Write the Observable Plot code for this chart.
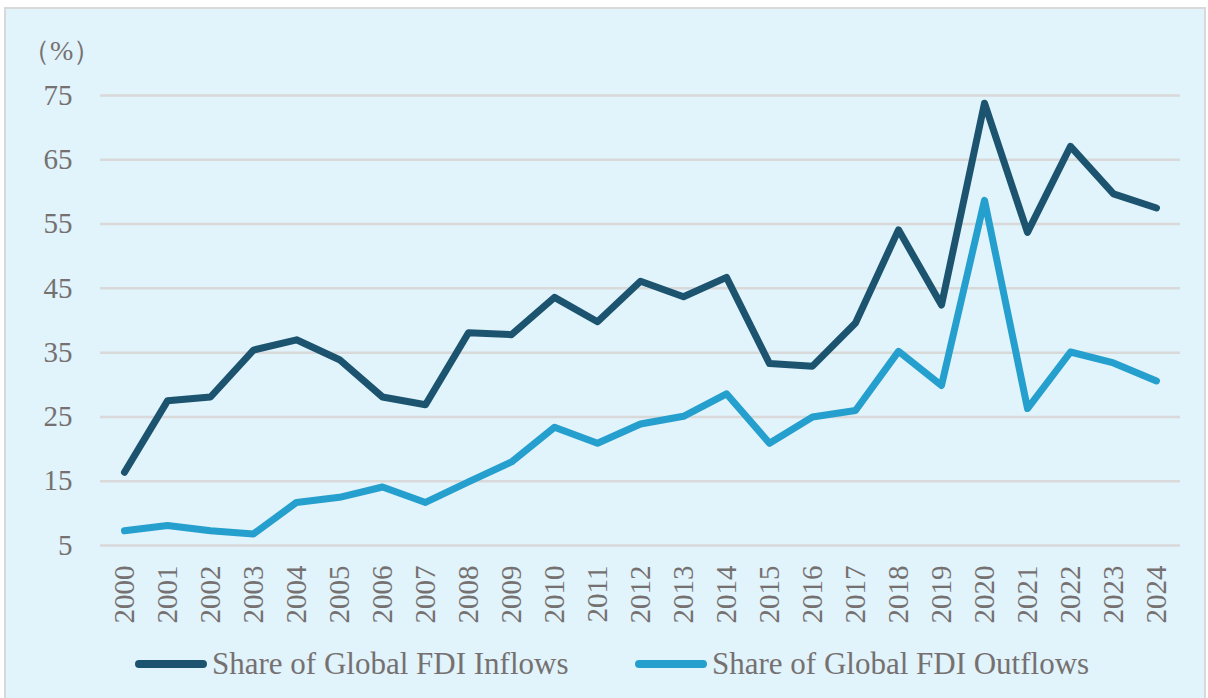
<!DOCTYPE html>
<html>
<head>
<meta charset="utf-8">
<script src="https://cdn.jsdelivr.net/npm/d3@7"></script>
<script src="https://cdn.jsdelivr.net/npm/@observablehq/plot@0.6"></script>
<style>
  html, body { margin: 0; padding: 0; background: #ffffff; width: 1208px; height: 698px; overflow: hidden; }
  #frame { position: absolute; left: 4px; top: 7px; width: 1198px; height: 700px; border: 2px solid #d9d9d9; background: #e1f3fb; }
  #chart { position: absolute; left: 0; top: 0; }
  #unit { position: absolute; left: 16px; top: 23px; font-family: "Liberation Serif", "Times New Roman", serif; font-size: 28px; color: #767171; }
  .leg { position: absolute; top: 637px; display: flex; align-items: center; font-family: "Liberation Serif", "Times New Roman", serif; font-size: 31px; color: #767171; white-space: nowrap; }
  .sw { width: 72px; height: 8px; border-radius: 4px; margin-right: 5px; }
</style>
</head>
<body>
<div id="frame">
  <div id="chart"></div>
  <div id="unit">（%）</div>
  <div class="leg" style="left:129px"><div class="sw" style="background:#1c5470"></div>Share of Global FDI Inflows</div>
  <div class="leg" style="left:629px"><div class="sw" style="background:#259fcd"></div>Share of Global FDI Outflows</div>
</div>
<script>
const years = ["2000","2001","2002","2003","2004","2005","2006","2007","2008","2009","2010","2011","2012","2013","2014","2015","2016","2017","2018","2019","2020","2021","2022","2023","2024"];
const inflows = [16.4, 27.5, 28.1, 35.4, 37.0, 33.9, 28.1, 26.9, 38.1, 37.8, 43.6, 39.8, 46.1, 43.7, 46.7, 33.3, 32.9, 39.6, 54.1, 42.4, 73.8, 53.7, 67.1, 59.7, 57.5];
const outflows = [7.3, 8.1, 7.3, 6.8, 11.7, 12.5, 14.1, 11.7, 14.9, 18.0, 23.4, 20.9, 23.9, 25.1, 28.6, 20.9, 25.0, 26.0, 35.2, 29.9, 58.7, 26.3, 35.1, 33.4, 30.6];
const yTicks = [5, 15, 25, 35, 45, 55, 65, 75];
const seriesNames = ["Share of Global FDI Inflows", "Share of Global FDI Outflows"];

const rows = [];
years.forEach((y, i) => {
  rows.push({year: y, value: inflows[i], series: seriesNames[0]});
  rows.push({year: y, value: outflows[i], series: seriesNames[1]});
});

const chart = Plot.plot({
  width: 1198,
  height: 636,
  marginLeft: 94,
  marginRight: 24,
  marginTop: 86,
  marginBottom: 100,
  style: { background: "transparent", fontFamily: "'Liberation Serif', 'Times New Roman', serif", color: "#767171" },
  x: { type: "point", domain: years, padding: 0.5, label: null },
  y: { domain: [5, 75], label: null },
  color: { domain: seriesNames, range: ["#1c5470", "#259fcd"] },
  marks: [
    Plot.gridY(yTicks, { stroke: "#d9d9d9", strokeOpacity: 1, strokeWidth: 2.5 }),
    Plot.axisY(yTicks, { tickSize: 0, tickPadding: 28, fontSize: 29, label: null, fill: "#767171" }),
    Plot.axisX(years, { tickSize: 0, tickPadding: 20, tickRotate: -90, fontSize: 29, label: null, fill: "#767171" }),
    Plot.line(rows, { x: "year", y: "value", z: "series", stroke: "series", strokeWidth: 7, strokeLinejoin: "round", strokeLinecap: "round" })
  ]
});
document.getElementById("chart").appendChild(chart);
</script>
</body>
</html>
